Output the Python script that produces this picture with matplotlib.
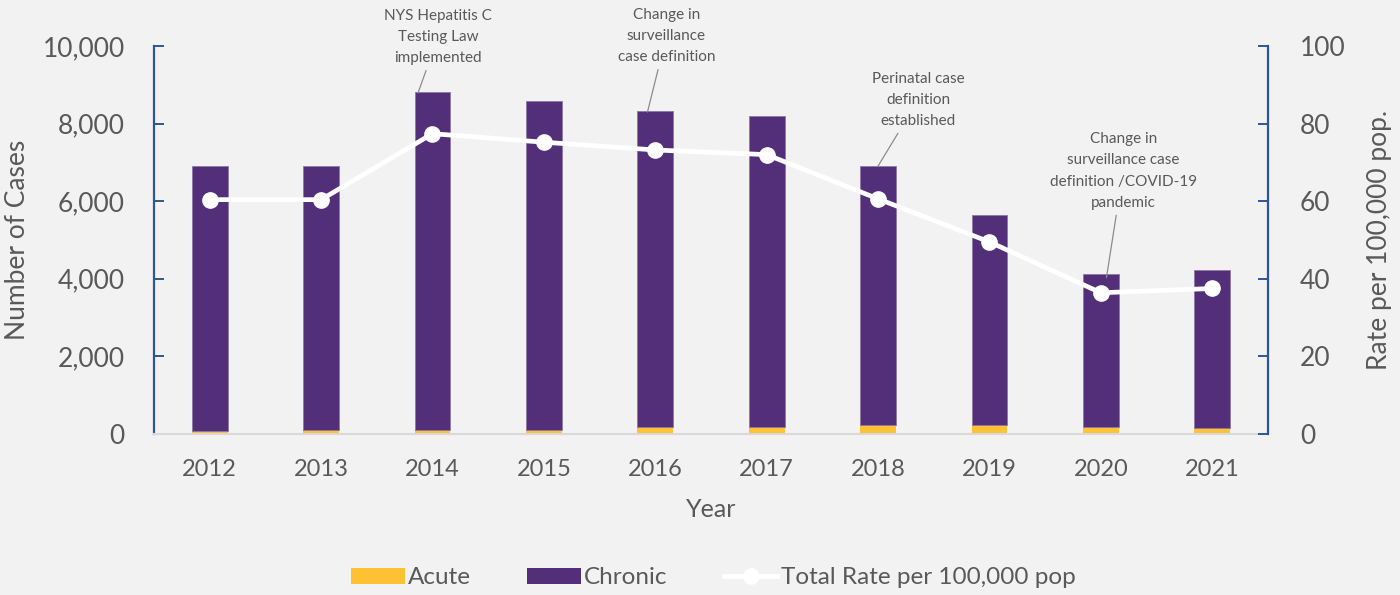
import matplotlib
matplotlib.use("Agg")
import matplotlib.pyplot as plt
from matplotlib.ticker import FuncFormatter, MultipleLocator
from matplotlib.patches import Patch
from matplotlib.lines import Line2D

years = ["2012", "2013", "2014", "2015", "2016", "2017", "2018", "2019", "2020", "2021"]
acute = [80, 110, 110, 110, 190, 190, 225, 240, 175, 155]
chronic = [6820, 6790, 8700, 8470, 8135, 8005, 6680, 5400, 3950, 4070]
rate = [60.4, 60.4, 77.4, 75.2, 73.2, 72.0, 60.6, 49.5, 36.4, 37.5]

annotations = [
    ("NYS Hepatitis C\nTesting Law\nimplemented", 2),
    ("Change in\nsurveillance\ncase definition", 4),
    ("Perinatal case\ndefinition\nestablished", 6),
    ("Change in\nsurveillance case\ndefinition /COVID-19\npandemic", 8),
]

plt.rcParams['font.family'] = ['Lato', 'DejaVu Sans']
BG = '#f2f2f2'
GRAY = '#595959'
BLUE = '#2f5597'
YELLOW = '#ffc234'
PURPLE = '#522f78'

fig = plt.figure(figsize=(14, 5.95), dpi=100, facecolor=BG)
ax = fig.add_axes([0.11, 0.2706, 0.7957, 0.6521], facecolor=BG)
ax2 = ax.twinx()

x = list(range(len(years)))
w = 0.32
ax.bar(x, acute, width=w, color=YELLOW, zorder=2)
ax.bar(x, chronic, width=w, bottom=acute, color=PURPLE, edgecolor='#8c76a8', linewidth=0.6, zorder=2)

ax2.plot(x, rate, color='white', lw=3.4, marker='o', markersize=11,
         markerfacecolor='white', markeredgecolor='white', zorder=3)

ax.set_xlim(-0.5, len(years) - 0.5)
ax.set_ylim(0, 10000)
ax2.set_ylim(0, 100)
ax.yaxis.set_major_locator(MultipleLocator(2000))
ax2.yaxis.set_major_locator(MultipleLocator(20))
ax.yaxis.set_major_formatter(FuncFormatter(lambda v, p: f"{int(v):,}"))
ax.set_xticks(x)
ax.set_xticklabels(years)

for a in (ax, ax2):
    for s in a.spines.values():
        s.set_visible(False)
ax.spines['left'].set_visible(True)
ax.spines['left'].set_color(BLUE)
ax.spines['left'].set_linewidth(1.6)
ax.spines['bottom'].set_visible(True)
ax.spines['bottom'].set_color('#d9d9d9')
ax.spines['bottom'].set_linewidth(1.5)
ax2.spines['right'].set_visible(True)
ax2.spines['right'].set_color(BLUE)
ax2.spines['right'].set_linewidth(1.6)

ax.tick_params(axis='y', direction='in', length=7, width=1.4, color=BLUE,
               labelsize=19, labelcolor=GRAY, pad=21)
ax2.tick_params(axis='y', direction='in', length=7, width=1.4, color=BLUE,
                labelsize=19, labelcolor=GRAY, pad=23)
ax.tick_params(axis='x', length=0, labelsize=17, labelcolor=GRAY, pad=18)

ax.set_xlabel("Year", fontsize=18, color=GRAY, labelpad=13)
ax.set_ylabel("Number of Cases", fontsize=19, color=GRAY, labelpad=9)
ax2.set_ylabel("Rate per 100,000 pop.", fontsize=19, color=GRAY, labelpad=15)

# annotation text centers / leader ends (offsets relative to the bar index)
text_pos = {2: (0.05, 10232), 4: (0.10, 10258), 6: (0.36, 8608), 8: (0.20, 6778)}
end_pos = {2: (-0.13, 8789), 4: (-0.07, 8299), 6: (0.0, 6907), 8: (0.05, 4030)}
for txt, i in annotations:
    tx, ty = text_pos[i]
    ex, ey = end_pos[i]
    ax.annotate(txt, xy=(i + ex, ey), xytext=(i + tx, ty), ha='center', va='center',
                fontsize=11, color=GRAY, linespacing=1.65, annotation_clip=False,
                arrowprops=dict(arrowstyle='-', color='#8c8c8c', lw=0.9,
                                shrinkA=2, shrinkB=0), zorder=5)

handles = [Patch(facecolor=YELLOW, edgecolor='none'),
           Patch(facecolor=PURPLE, edgecolor='none'),
           Line2D([0], [0], color='white', lw=3.4, marker='o', markersize=11,
                  markerfacecolor='white', markeredgecolor='white')]
labels = ["Acute", "Chronic", "Total Rate per 100,000 pop"]
fig.legend(handles, labels, loc='center', bbox_to_anchor=(0.5096, 0.0286), ncol=3,
           frameon=False, fontsize=17.5, labelcolor=GRAY, handlelength=2.2,
           handleheight=0.66, handletextpad=0.15, columnspacing=2.3)

fig.savefig("out.png", dpi=100, facecolor=BG)
